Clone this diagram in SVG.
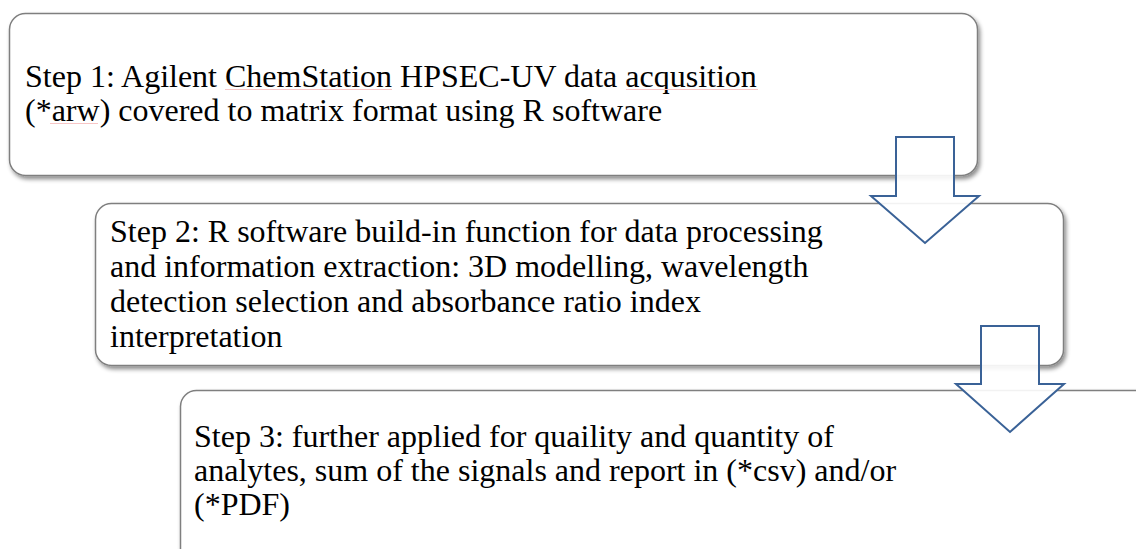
<svg xmlns="http://www.w3.org/2000/svg" width="1136" height="549" viewBox="0 0 1136 549">
<style>
.box{fill:#ffffff;stroke:#7f7f7f;stroke-width:1.5;filter:url(#sh)}
.t{font-family:"Liberation Serif","Times New Roman",serif;font-size:32px;fill:#000}
.arr{fill:#ffffff;fill-opacity:0.9;stroke:#3a6297;stroke-width:2;stroke-linejoin:miter}
.sq{stroke:#f7c6c6;stroke-width:1;fill:none}
</style>
<defs>
<filter id="sh" x="-5%" y="-10%" width="110%" height="130%">
<feDropShadow dx="2" dy="3" stdDeviation="2" flood-color="#000" flood-opacity="0.45"/>
</filter>
</defs>
<g id="step1">
<rect class="box" x="9.5" y="13.5" width="968" height="162" rx="16"/>
<text class="t" x="25" y="87">Step 1: Agilent ChemStation HPSEC-UV data acqusition</text>
<text class="t" x="25" y="121">(*arw) covered to matrix format using R software</text>
<line class="sq" x1="225" y1="89.5" x2="392" y2="89.5"/>
<line class="sq" x1="626" y1="89.5" x2="758" y2="89.5"/>
<line class="sq" x1="50" y1="123.5" x2="98" y2="123.5"/>
</g>
<g id="step2">
<rect class="box" x="95.5" y="203.5" width="968" height="162" rx="16"/>
<text class="t" x="110" y="242">Step 2: R software build-in function for data processing</text>
<text class="t" x="110" y="277">and information extraction: 3D modelling, wavelength</text>
<text class="t" x="110" y="312">detection selection and absorbance ratio index</text>
<text class="t" x="110" y="347">interpretation</text>
</g>
<g id="step3">
<rect class="box" x="180.5" y="390.5" width="1000" height="180" rx="16"/>
<text class="t" x="194" y="447">Step 3: further applied for quaility and quantity of</text>
<text class="t" x="194" y="481">analytes, sum of the signals and report in (*csv) and/or</text>
<text class="t" x="194" y="515">(*PDF)</text>
</g>
<g id="connectors">
<polygon class="arr" points="896,137 954,137 954,196 979,196 925,243 871,196 896,196"/>
<polygon class="arr" points="981,326 1039,326 1039,384 1064,384 1010,432 956,384 981,384"/>
</g>
</svg>
